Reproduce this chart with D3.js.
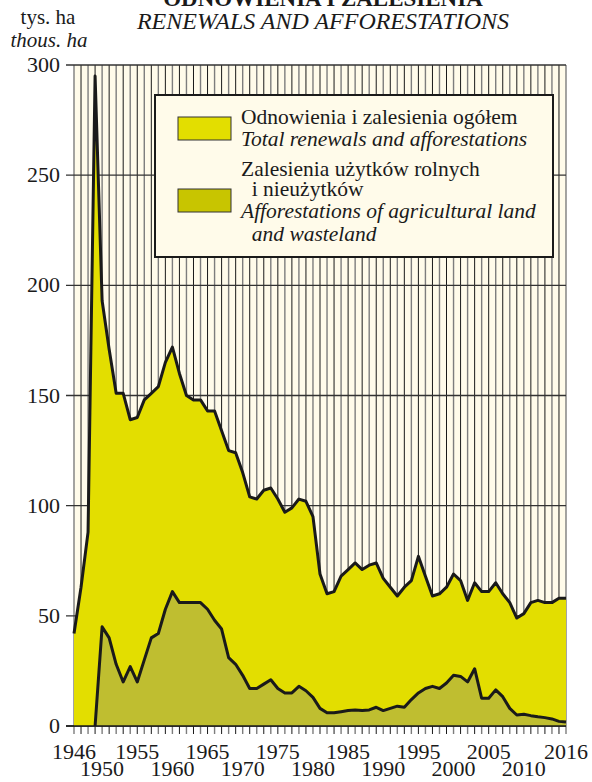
<!DOCTYPE html>
<html lang="pl">
<head>
    <meta charset="UTF-8">
    <title>Odnowienia i zalesienia</title>

    <style>

        body {
            margin: 0;
            background: #fff;
        }

        svg text {
            font-family: "Liberation Serif", "Times New Roman", Times, "DejaVu Serif", serif;
            fill: #1a1a1a;
        }

        .curve {
            fill: none;
            stroke: #1a1a1a;
            stroke-width: 3px;
            stroke-linejoin: round;
        }

        .tickLabel {
            font-size: 22px;
        }

        .key {
            font-size: 21.5px;
            white-space: pre;
        }

    </style>

</head>
<body>

<script src="https://d3js.org/d3.v7.min.js"></script>

<script>

    const width = 592;
    const height = 782;

    const firstYear = 1946;
    const lastYear = 2016;
    const years = d3.range(firstYear, lastYear + 1);

    // odnowienia i zalesienia ogółem, tys. ha
    const total = [
        42, 63, 88, 295, 193, 171, 151, 151, 139, 140,
        148, 151, 154, 165, 172, 160, 150, 148, 148, 143,
        143, 134, 125, 124, 115, 104, 103, 107, 108, 103,
        97, 99, 103, 102, 95, 69, 60, 61, 68, 71,
        74, 71, 73, 74, 67, 63, 59, 63, 66, 77,
        68, 59, 60, 63, 69, 66, 57, 65, 61, 61,
        65, 60, 56, 49, 51, 56, 57, 56, 56, 58, 58
    ];

    // zalesienia użytków rolnych i nieużytków, tys. ha
    const agricultural = [
        null, null, null, 0, 45, 40, 28, 20, 27, 20,
        30, 40, 42, 53, 61, 56, 56, 56, 56, 53,
        48, 44, 31, 28, 23, 17, 17, 19, 21, 17,
        15, 15, 18, 16, 13, 8, 6, 6, 6.5, 7,
        7.3, 7, 7.3, 8.5, 7, 8, 9, 8.5, 12, 15,
        17, 18, 17, 19.5, 23, 22.5, 20, 26, 12.6, 12.6,
        16.4, 13.3, 8, 5, 5.3, 4.7, 4.2, 3.8, 3.2, 2.1, 1.8
    ];

    const yTicks = [0, 50, 100, 150, 200, 250, 300];
    const xLabelsTop = [1946, 1955, 1965, 1975, 1985, 1995, 2005, 2016];
    const xLabelsBottom = [1950, 1960, 1970, 1980, 1990, 2000, 2010];

    const legendTotal = ['Odnowienia i zalesienia ogółem', 'Total renewals and afforestations'];
    const legendAgri = ['Zalesienia użytków rolnych', '  i nieużytków', 'Afforestations of agricultural land', '  and wasteland'];

    const colour = {
        'paper': '#fffbea',
        'total': '#e3de00',
        'agri': '#bfbe30',
        'agriKey': '#c8c500',
        'dark': '#1a1a1a',
        'grey': '#7d7d7d'
    };

    const x = d3.scaleLinear().domain([firstYear, lastYear]).range([74, 566]);
    const y = d3.scaleLinear().domain([0, 300]).range([726, 65]);

    let svg = d3.select('body').append('svg')
        .attr('width', width)
        .attr('height', height);

    // titles (main title sits partly above the page edge, as in the source)
    svg.append('text')
        .attr('x', 323)
        .attr('y', 6)
        .attr('text-anchor', 'middle')
        .style('font-size', '23px')
        .style('font-weight', 'bold')
        .text('ODNOWIENIA I ZALESIENIA');

    svg.append('text')
        .attr('x', 323)
        .attr('y', 29)
        .attr('text-anchor', 'middle')
        .style('font-size', '24px')
        .style('font-style', 'italic')
        .text('RENEWALS AND AFFORESTATIONS');

    svg.append('text')
        .attr('x', 48)
        .attr('y', 24)
        .attr('text-anchor', 'middle')
        .style('font-size', '21px')
        .text('tys. ha');

    svg.append('text')
        .attr('x', 49)
        .attr('y', 47)
        .attr('text-anchor', 'middle')
        .style('font-size', '21px')
        .style('font-style', 'italic')
        .text('thous. ha');

    // plot background
    svg.append('rect')
        .attr('x', x(firstYear))
        .attr('y', y(300))
        .attr('width', x(lastYear) - x(firstYear))
        .attr('height', y(0) - y(300))
        .style('fill', colour.paper);

    let grid = svg.append('g');

    // one vertical line per year, alternating dark and grey
    grid.selectAll('line.year')
        .data(years)
        .enter().append('line')
        .attr('class', 'year')
        .attr('x1', d => x(d))
        .attr('x2', d => x(d))
        .attr('y1', y(300))
        .attr('y2', y(0) + 8)
        .style('stroke', (d, i) => i % 2 ? colour.dark : colour.grey)
        .style('stroke-width', (d, i) => i % 2 ? 1 : 1.4);

    grid.selectAll('line.value')
        .data(yTicks)
        .enter().append('line')
        .attr('class', 'value')
        .attr('x1', 66)
        .attr('x2', x(lastYear))
        .attr('y1', d => y(d))
        .attr('y2', d => y(d))
        .style('stroke', '#333')
        .style('stroke-width', 1.3);

    // areas
    const totalData = years.map((yr, i) => ({year: yr, value: total[i]}));
    const agriData = years.map((yr, i) => ({year: yr, value: agricultural[i]}));

    svg.append('path')
        .datum(totalData)
        .attr('d', d3.area()
            .x(d => x(d.year))
            .y0(y(0))
            .y1(d => y(d.value)))
        .style('fill', colour.total);

    svg.append('path')
        .datum(agriData)
        .attr('d', d3.area()
            .defined(d => d.value !== null)
            .x(d => x(d.year))
            .y0(y(0))
            .y1(d => y(d.value)))
        .style('fill', colour.agri);

    svg.append('path')
        .datum(totalData)
        .classed('curve', true)
        .attr('d', d3.line()
            .x(d => x(d.year))
            .y(d => y(d.value)));

    svg.append('path')
        .datum(agriData)
        .classed('curve', true)
        .attr('d', d3.line()
            .defined(d => d.value !== null)
            .x(d => x(d.year))
            .y(d => y(d.value)));

    // axis base line
    svg.append('line')
        .attr('x1', 66)
        .attr('x2', x(lastYear))
        .attr('y1', y(0))
        .attr('y2', y(0))
        .style('stroke', colour.dark)
        .style('stroke-width', 1.5);

    // tick labels
    svg.selectAll('text.yLabel')
        .data(yTicks)
        .enter().append('text')
        .attr('class', 'yLabel tickLabel')
        .attr('x', 60)
        .attr('y', d => y(d) + 7)
        .attr('text-anchor', 'end')
        .text(d => d);

    svg.selectAll('text.xTop')
        .data(xLabelsTop)
        .enter().append('text')
        .attr('class', 'xTop tickLabel')
        .attr('x', d => x(d))
        .attr('y', 759)
        .attr('text-anchor', 'middle')
        .text(d => d);

    svg.selectAll('text.xBottom')
        .data(xLabelsBottom)
        .enter().append('text')
        .attr('class', 'xBottom tickLabel')
        .attr('x', d => x(d))
        .attr('y', 776)
        .attr('text-anchor', 'middle')
        .text(d => d);

    // legend
    let legend = svg.append('g')
        .attr('transform', 'translate(155,95)');

    legend.append('rect')
        .attr('width', 398)
        .attr('height', 162)
        .style('fill', colour.paper)
        .style('stroke', colour.dark)
        .style('stroke-width', 2);

    legend.append('rect')
        .attr('x', 23)
        .attr('y', 22)
        .attr('width', 53)
        .attr('height', 23)
        .style('fill', colour.total)
        .style('stroke', '#333')
        .style('stroke-width', 1);

    legend.append('rect')
        .attr('x', 23)
        .attr('y', 94)
        .attr('width', 53)
        .attr('height', 23)
        .style('fill', colour.agriKey)
        .style('stroke', '#333')
        .style('stroke-width', 1);

    const totalRows = [29, 51];
    const agriRows = [81, 101, 123, 146];

    legend.selectAll('text.keyTotal')
        .data(legendTotal)
        .enter().append('text')
        .attr('class', 'keyTotal key')
        .attr('x', 86)
        .attr('y', (d, i) => totalRows[i])
        .style('font-style', (d, i) => i === 1 ? 'italic' : 'normal')
        .text(d => d);

    legend.selectAll('text.keyAgri')
        .data(legendAgri)
        .enter().append('text')
        .attr('class', 'keyAgri key')
        .attr('x', 86)
        .attr('y', (d, i) => agriRows[i])
        .style('font-style', (d, i) => i >= 2 ? 'italic' : 'normal')
        .text(d => d);

</script>

</body>
</html>
